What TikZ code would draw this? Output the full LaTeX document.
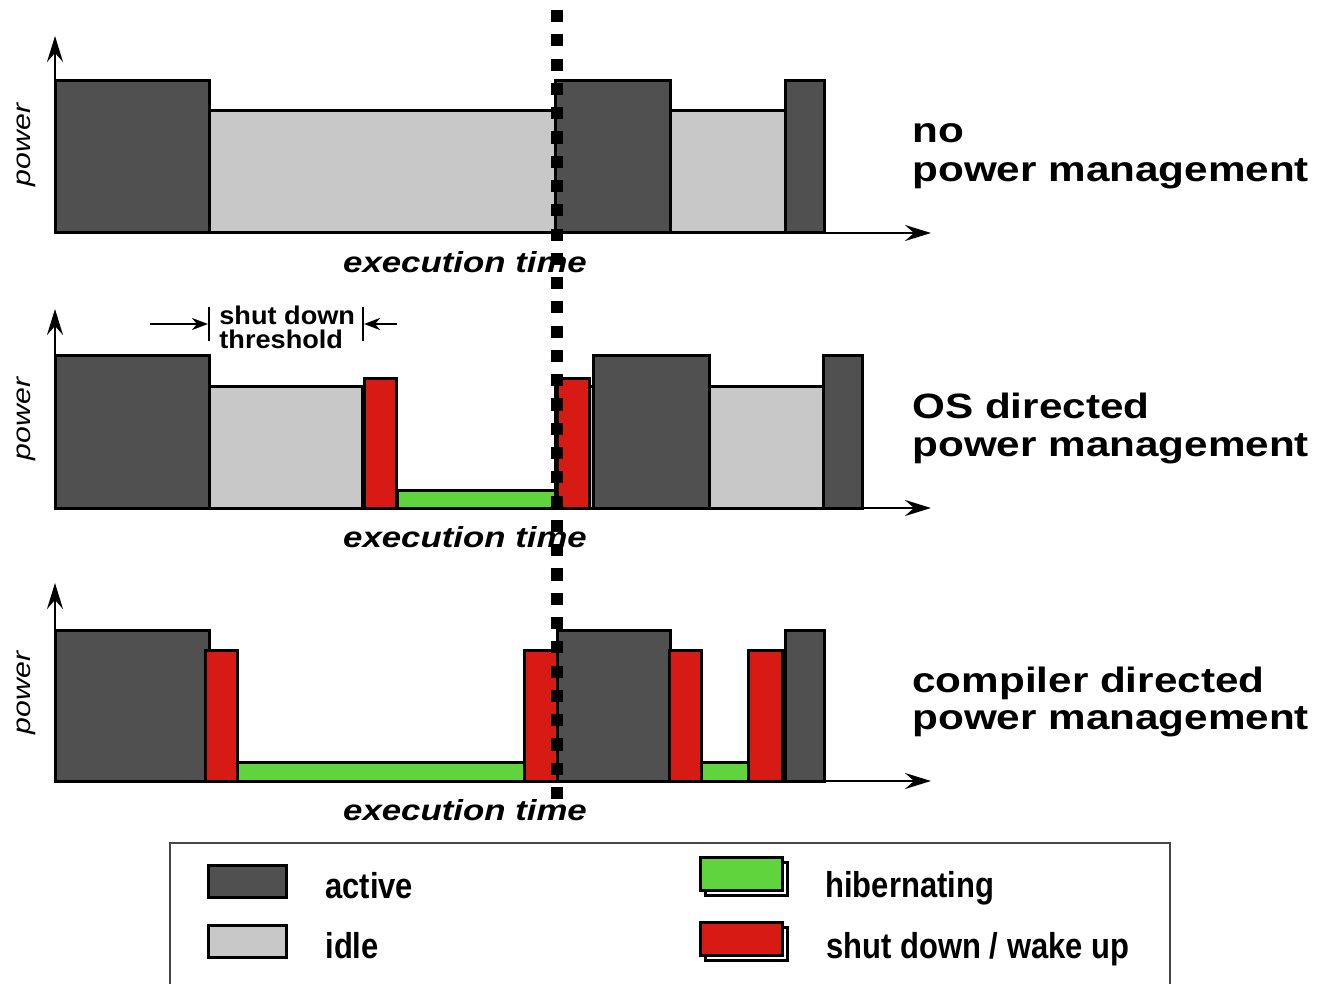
\documentclass[tikz,border=0pt]{standalone}
\usepackage{fontspec}
\setmainfont{Liberation Sans}
\newfontfamily\widefont[FakeStretch=1.2]{Liberation Sans}
\newfontfamily\narrowfont[FakeStretch=0.86]{Liberation Sans}
\newfontfamily\thrfont[FakeStretch=1.06]{Liberation Sans}
\usetikzlibrary{arrows.meta}
\definecolor{activec}{RGB}{80,80,80}
\definecolor{idlec}{RGB}{200,200,200}
\definecolor{redc}{RGB}{216,26,20}
\definecolor{greenc}{RGB}{96,212,60}
\definecolor{framec}{RGB}{70,70,70}
\begin{document}
\begin{tikzpicture}[x=0.5pt,y=-0.5pt,
 blk/.style={draw=black,line width=1.5pt},
 active/.style={blk,fill=activec},
 idle/.style={blk,fill=idlec},
 sdwu/.style={blk,fill=redc},
 hib/.style={blk,fill=greenc},
 shadow/.style={blk,fill=white},
 axis/.style={line width=1.3pt,-{Stealth[length=13pt,width=8pt,inset=4.5pt]}},
 thrarrow/.style={line width=1.2pt,-{Stealth[length=8pt,width=6pt,inset=2.5pt]}},
 bar/.style={line width=1.3pt},
 plabel/.style={anchor=base west,inner sep=0,font=\widefont\bfseries\fontsize{17.6}{18.5}\selectfont},
 xlab/.style={anchor=base,inner sep=0,font=\widefont\bfseries\itshape\fontsize{14.5}{16}\selectfont},
 ylab/.style={anchor=center,rotate=90,inner sep=0,font=\widefont\itshape\fontsize{12.6}{14}\selectfont},
 leg/.style={anchor=base west,inner sep=0,font=\narrowfont\bfseries\fontsize{18}{20}\selectfont},
 thr/.style={anchor=base west,inner sep=0,font=\thrfont\bfseries\fontsize{12.8}{14}\selectfont},
 dotline/.style={line width=6pt,dash pattern=on 6.07pt off 6.07pt},
]
\clip (0,0) rectangle (1317,984);

% ---------- panel 1 ----------
\draw[active] (55,81) rectangle (209,233);
\draw[idle] (209,111) rectangle (555,233);
\draw[active] (555,81) rectangle (670,233);
\draw[idle] (670,111) rectangle (785,233);
\draw[active] (785,81) rectangle (824,233);
\coordinate (o1) at (55,233);
\coordinate (y1) at (55,36);
\coordinate (x1) at (931,233);
\draw[axis] (o1) -- (y1);
\draw[axis] (o1) -- (x1);
\node[ylab] (p1) at (26,145) {power};
\node[xlab] (e1) at (465,272) {execution time};
\node[plabel] (n1a) at (912,143) {no};
\node[plabel] (n1b) at (912,182) {power management};

% ---------- panel 2 ----------
\draw[active] (55,355) rectangle (209,508);
\draw[idle] (209,386) rectangle (362,508);
\draw[sdwu] (364,378) rectangle (396,508);
\draw[hib] (397,490) rectangle (555,508);
\draw[idle] (555,386) rectangle (593,508);
\draw[sdwu] (557,378) rectangle (589,508);
\draw[active] (593,355) rectangle (709,508);
\draw[idle] (709,386) rectangle (823,508);
\draw[active] (823,355) rectangle (862,508);
\coordinate (o2) at (55,508);
\coordinate (y2) at (55,309);
\coordinate (x2) at (931,508);
\draw[axis] (o2) -- (y2);
\draw[axis] (o2) -- (x2);
\node[ylab] (p2) at (26,419) {power};
\node[xlab] (e2) at (465,547) {execution time};
\node[plabel] (n2a) at (912,418) {OS directed};
\node[plabel] (n2b) at (912,456) {power management};
% threshold
\coordinate (b1t) at (209,307);
\coordinate (b1b) at (209,341);
\coordinate (b2t) at (363,307);
\coordinate (b2b) at (363,341);
\coordinate (al) at (150,324);
\coordinate (alt) at (208,324);
\coordinate (ar) at (397,324);
\coordinate (art) at (364,324);
\draw[bar] (b1t) -- (b1b);
\draw[bar] (b2t) -- (b2b);
\draw[thrarrow] (al) -- (alt);
\draw[thrarrow] (ar) -- (art);
\node[thr] (th1) at (219,324) {shut down};
\node[thr] (th2) at (219,348) {threshold};

% ---------- panel 3 ----------
\draw[active] (55,630) rectangle (209,781);
\draw[sdwu] (205,650) rectangle (237,781);
\draw[hib] (237,762) rectangle (524,781);
\draw[sdwu] (524,650) rectangle (557,781);
\draw[active] (557,630) rectangle (670,781);
\draw[sdwu] (669,650) rectangle (701,781);
\draw[hib] (701,762) rectangle (748,781);
\draw[sdwu] (748,650) rectangle (782,781);
\draw[active] (785,630) rectangle (824,781);
\coordinate (o3) at (55,781);
\coordinate (y3) at (55,583);
\coordinate (x3) at (931,781);
\draw[axis] (o3) -- (y3);
\draw[axis] (o3) -- (x3);
\node[ylab] (p3) at (26,693) {power};
\node[xlab] (e3) at (465,820) {execution time};
\node[plabel] (n3a) at (912,692) {compiler directed};
\node[plabel] (n3b) at (912,729) {power management};

% ---------- dotted divider ----------
\coordinate (dtop) at (557,10);
\coordinate (dbot) at (557,800);
\draw[dotline] (dtop) -- (dbot);

% ---------- legend ----------
\coordinate (f1) at (170,1000);
\coordinate (f2) at (170,843);
\coordinate (f3) at (1170,843);
\coordinate (f4) at (1170,1000);
\draw[framec,line width=1.1pt] (f1) -- (f2) -- (f3) -- (f4);
\draw[active] (208,865) rectangle (286,897);
\draw[idle] (208,925) rectangle (286,957);
\draw[shadow] (705,862) rectangle (787,895);
\draw[hib] (700,857) rectangle (782,890);
\draw[shadow] (705,927) rectangle (787,960);
\draw[sdwu] (700,922) rectangle (782,955);
\node[leg] (la) at (325,898) {active};
\node[leg] (li) at (325,958) {idle};
\node[leg] (lh) at (825,897) {hibernating};
\node[leg] (ls) at (826,958) {shut down / wake up};
\end{tikzpicture}
\end{document}
